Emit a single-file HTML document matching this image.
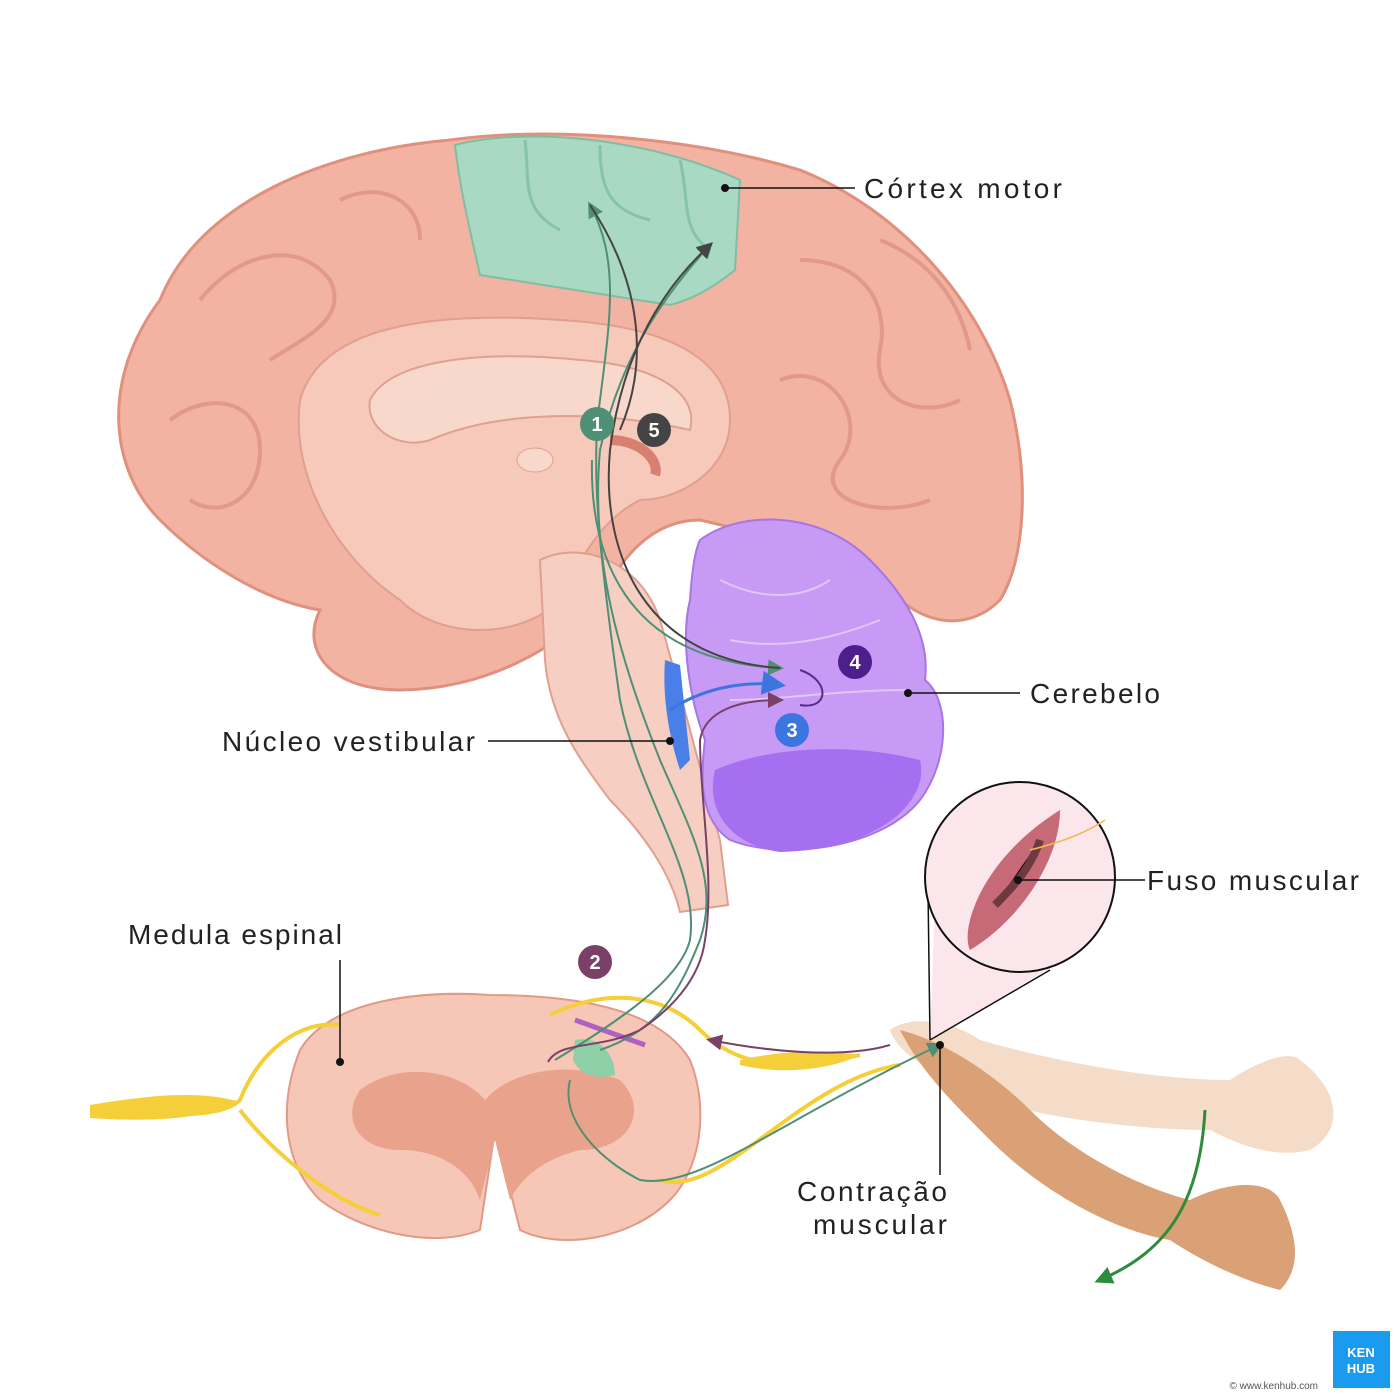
<!DOCTYPE html>
<html><head><meta charset="utf-8"><style>
html,body{margin:0;padding:0;background:#fff}
svg{display:block}
text{font-family:"Liberation Sans",sans-serif}
</style></head><body>
<svg width="1400" height="1400" viewBox="0 0 1400 1400" xmlns="http://www.w3.org/2000/svg">
<defs>
<marker id="ag" markerWidth="8" markerHeight="8" refX="6" refY="4" orient="auto"><path d="M0,0 L8,4 L0,8 Z" fill="#4f8f74"/></marker>
<marker id="ad" markerWidth="8" markerHeight="8" refX="6" refY="4" orient="auto"><path d="M0,0 L8,4 L0,8 Z" fill="#444"/></marker>
<marker id="ap" markerWidth="8" markerHeight="8" refX="6" refY="4" orient="auto"><path d="M0,0 L8,4 L0,8 Z" fill="#7a4068"/></marker>
<marker id="ab" markerWidth="8" markerHeight="8" refX="6" refY="4" orient="auto"><path d="M0,0 L8,4 L0,8 Z" fill="#3a75e0"/></marker>
<marker id="agr" markerWidth="6" markerHeight="6" refX="4" refY="3" orient="auto"><path d="M0,0 L6,3 L0,6 Z" fill="#2e8b3b"/></marker>
</defs>
<rect width="1400" height="1400" fill="#fff"/>
<!-- cerebrum -->
<path d="M160,300 C200,200 330,150 450,140 C560,125 700,140 800,170 C900,210 980,300 1010,400 C1030,480 1025,560 1000,600 C960,640 900,620 870,560 L700,520 C650,520 620,560 600,600 C560,650 480,690 400,690 C330,690 300,650 320,610 C260,600 200,560 160,520 C110,470 100,380 160,300 Z" fill="#f2b3a3" stroke="#e0907c" stroke-width="3"/>
<g fill="none" stroke="#dc8f7c" stroke-width="4" opacity="0.7">
<path d="M200,300 C240,250 300,240 330,280 C350,320 300,340 270,360"/>
<path d="M170,420 C210,390 260,400 260,450 C260,500 220,520 190,500"/>
<path d="M800,260 C860,260 890,300 880,350 C870,400 920,420 960,400"/>
<path d="M780,380 C830,360 870,420 840,460 C810,500 880,520 930,500"/>
<path d="M340,200 C380,180 420,200 420,240"/>
<path d="M880,240 C930,260 960,300 970,350"/>
</g>
<path d="M300,400 C320,330 420,310 560,320 C650,325 730,350 730,420 C730,470 680,500 640,500 C600,520 580,560 560,600 C520,640 440,640 400,600 C340,560 290,480 300,400 Z" fill="#f6c9bb" stroke="#e0a08f" stroke-width="2"/>
<path d="M370,400 C390,360 480,350 580,360 C650,365 700,390 690,430 C600,410 500,410 430,440 C400,450 365,430 370,400 Z" fill="#f9d8cc" stroke="#e0a08f" stroke-width="2"/>
<ellipse cx="535" cy="460" rx="18" ry="12" fill="#f9d8cc" stroke="#e0a08f"/>
<path d="M610,440 C640,440 660,460 655,475" stroke="#d88070" stroke-width="10" fill="none"/>
<!-- motor cortex -->
<path d="M455,145 C520,128 640,135 740,180 L735,270 C710,290 690,300 670,305 L480,275 C470,230 460,190 455,145 Z" fill="#a9d9c2" stroke="#7fbea3" stroke-width="2"/>
<g fill="none" stroke="#86c4a8" stroke-width="3"><path d="M525,140 C530,180 520,210 560,230"/><path d="M600,145 C600,190 610,210 650,220"/><path d="M680,160 C690,200 680,230 710,250"/></g>
<!-- brainstem -->
<path d="M540,560 C580,540 640,560 660,620 C680,690 700,770 720,840 L728,905 L680,912 C670,870 640,830 610,800 C580,760 550,720 545,660 Z" fill="#f6cfc2" stroke="#e0a08f" stroke-width="2"/>
<path d="M665,660 L680,665 L690,760 L680,770 C670,740 662,700 665,660 Z" fill="#4a7fe8"/>
<!-- cerebellum -->
<path d="M700,540 C740,510 820,510 870,560 C910,600 930,640 925,680 C950,700 950,760 920,800 C880,850 780,860 730,840 C700,820 700,780 705,740 C690,700 680,640 690,600 C692,570 695,550 700,540 Z" fill="#c79af5" stroke="#a874e6" stroke-width="2"/>
<path d="M715,770 C760,750 840,740 920,760 C930,800 880,850 780,852 C730,845 705,810 715,770 Z" fill="#a66ef0"/>
<g fill="none" stroke="#e6d4fb" stroke-width="2" opacity="0.8"><path d="M720,580 C760,600 800,600 830,580"/><path d="M730,640 C780,650 830,640 880,620"/><path d="M730,700 C780,700 840,690 910,690"/></g>
<!-- spinal cord -->
<path d="M300,1050 C330,1000 420,990 490,995 C580,995 660,1010 690,1060 C710,1110 700,1170 670,1200 C630,1240 560,1250 520,1230 L495,1130 L480,1230 C430,1250 360,1230 320,1200 C280,1160 280,1100 300,1050 Z" fill="#f6c6b6" stroke="#e09a86" stroke-width="2"/>
<path d="M360,1090 C400,1060 460,1070 485,1100 C510,1070 570,1060 620,1080 C650,1110 630,1150 580,1150 C540,1160 520,1180 510,1200 L495,1140 L480,1200 C470,1170 440,1150 400,1150 C360,1150 340,1120 360,1090 Z" fill="#e9a38c"/>
<path d="M575,1040 C600,1035 615,1055 615,1075 C595,1080 580,1075 573,1060 Z" fill="#8fcfa8"/>
<path d="M575,1020 L645,1045" stroke="#b060c0" stroke-width="5"/>
<!-- nerves -->
<g fill="none" stroke="#f5cf3a" stroke-width="4">
<path d="M340,1025 C300,1020 260,1050 240,1100 C220,1120 160,1115 90,1110"/>
<path d="M380,1215 C330,1200 270,1150 240,1110"/>
<path d="M550,1015 C600,990 660,990 700,1030 C740,1070 790,1070 860,1055"/>
<path d="M660,1180 C720,1200 800,1080 900,1065"/>
</g>
<path d="M90,1105 C150,1095 200,1090 240,1102 C200,1120 150,1122 90,1118 Z" fill="#f5cf3a"/>
<path d="M740,1060 C780,1050 830,1050 860,1055 C830,1070 780,1075 740,1065 Z" fill="#f5cf3a"/>
<!-- arm -->
<path d="M890,1030 C910,1015 950,1020 980,1040 C1050,1060 1150,1080 1230,1080 C1260,1060 1290,1050 1300,1060 C1340,1090 1345,1130 1310,1150 C1270,1160 1230,1140 1210,1130 C1150,1130 1050,1120 990,1100 C950,1080 900,1060 890,1030 Z" fill="#f5dcc8"/>
<path d="M900,1030 C940,1040 990,1070 1030,1110 C1080,1160 1150,1190 1190,1200 C1230,1180 1270,1180 1280,1200 C1300,1240 1300,1270 1280,1290 C1240,1280 1200,1260 1170,1240 C1110,1230 1040,1190 990,1140 C950,1100 920,1070 900,1030 Z" fill="#d9a175"/>
<!-- inset -->
<path d="M930,1040 L935,900 L1055,965 Z" fill="#fbe6ec"/>
<line x1="930" y1="1040" x2="928" y2="890" stroke="#111" stroke-width="1.5"/>
<line x1="930" y1="1040" x2="1050" y2="970" stroke="#111" stroke-width="1.5"/>
<circle cx="1020" cy="877" r="95" fill="#fbe6ec" stroke="#111" stroke-width="2"/>
<path d="M1060,810 C1060,860 1020,920 970,950 C960,930 980,860 1060,810 Z" fill="#c76a78"/>
<path d="M1040,840 C1030,870 1010,890 995,905" stroke="#6e3a40" stroke-width="8"/>
<path d="M1030,850 C1070,840 1090,830 1105,820" stroke="#f5b850" stroke-width="1.5" fill="none"/>
<!-- pathways -->
<g fill="none" stroke-width="2">
<path d="M555,1060 C620,1020 680,980 690,940 C700,870 640,800 620,700 C600,560 590,470 600,400 C610,320 620,260 590,205" stroke="#4f8f74" marker-end="url(#ag)"/>
<path d="M600,1050 C660,1030 680,990 700,940 C720,880 690,830 660,760 C620,660 590,560 600,450 C620,360 660,300 710,245" stroke="#4f8f74" marker-end="url(#ag)"/>
<path d="M592,460 C590,550 620,660 780,668" stroke="#4f8f74" marker-end="url(#ag)"/>
<path d="M780,668 C650,660 600,560 610,450 C620,370 650,300 710,245" stroke="#444" marker-end="url(#ad)"/>
<path d="M620,430 C650,360 640,280 590,205" stroke="#444"/>
<path d="M548,1062 C560,1040 600,1050 640,1030 C670,1010 700,980 705,940 C715,880 700,800 700,740 C705,710 740,700 780,700" stroke="#7a4068" marker-end="url(#ap)"/>
<path d="M670,710 C700,690 740,680 780,685" stroke="#3a75e0" stroke-width="3" marker-end="url(#ab)"/>
<path d="M570,1080 C560,1120 600,1160 640,1180 C700,1190 780,1120 940,1045" stroke="#4f8f74" marker-end="url(#ag)"/>
<path d="M890,1045 C840,1060 760,1050 710,1040" stroke="#7a4068" marker-end="url(#ap)"/>
<path d="M800,670 C830,680 830,710 800,705" stroke="#5a2a8c"/>
<path d="M1205,1110 C1200,1200 1170,1250 1100,1280" stroke="#2e8b3b" stroke-width="3" marker-end="url(#agr)"/>
</g>
<g stroke="#111" stroke-width="1.5">
<line x1="725" y1="188" x2="855" y2="188"/><line x1="908" y1="693" x2="1020" y2="693"/>
<line x1="488" y1="741" x2="670" y2="741"/><line x1="340" y1="960" x2="340" y2="1062"/>
<line x1="1018" y1="880" x2="1145" y2="880"/><line x1="940" y1="1045" x2="940" y2="1175"/>
</g>
<g fill="#111"><circle cx="725" cy="188" r="4"/><circle cx="908" cy="693" r="4"/><circle cx="670" cy="741" r="4"/><circle cx="340" cy="1062" r="4"/><circle cx="1018" cy="880" r="4"/><circle cx="940" cy="1045" r="4"/></g>
<g font-size="28" fill="#222" lengthAdjust="spacing">
<text x="864" y="198" textLength="198" lengthAdjust="spacing">Córtex motor</text>
<text x="1030" y="703" textLength="130" lengthAdjust="spacing">Cerebelo</text>
<text x="222" y="751" textLength="253" lengthAdjust="spacing">Núcleo vestibular</text>
<text x="128" y="944" textLength="214" lengthAdjust="spacing">Medula espinal</text>
<text x="1147" y="890" textLength="212" lengthAdjust="spacing">Fuso muscular</text>
<text x="797" y="1201" textLength="150" lengthAdjust="spacing">Contração</text>
<text x="813" y="1234" textLength="134" lengthAdjust="spacing">muscular</text>
</g>
<g font-size="20" font-weight="bold" fill="#fff" text-anchor="middle">
<circle cx="597" cy="424" r="17" fill="#4f8f74"/><text x="597" y="431">1</text>
<circle cx="654" cy="430" r="17" fill="#444"/><text x="654" y="437">5</text>
<circle cx="855" cy="662" r="17" fill="#4b1f8c"/><text x="855" y="669">4</text>
<circle cx="792" cy="730" r="17" fill="#3a75e0"/><text x="792" y="737">3</text>
<circle cx="595" cy="962" r="17" fill="#7a4068"/><text x="595" y="969">2</text>
</g>
<rect x="1333" y="1331" width="57" height="57" fill="#1a9bf0"/>
<text x="1361" y="1357" font-size="13" font-weight="bold" fill="#fff" text-anchor="middle">KEN</text>
<text x="1361" y="1373" font-size="13" font-weight="bold" fill="#fff" text-anchor="middle">HUB</text>
<text x="1318" y="1389" font-size="10" fill="#555" text-anchor="end">© www.kenhub.com</text>
</svg>
</body></html>
